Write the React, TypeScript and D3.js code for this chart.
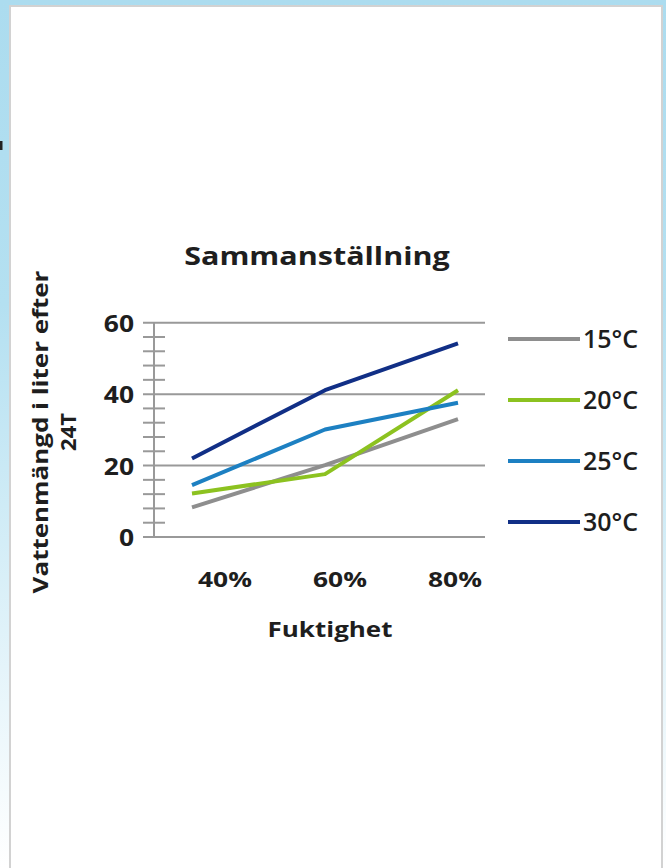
import React from "react";
import * as d3 from "d3";

const categories = ["40%", "60%", "80%"];
const seriesNames = ["15°C", "20°C", "25°C", "30°C"];
const series15 = [8.3, 20.1, 33.0];
const series20 = [12.2, 17.6, 41.1];
const series25 = [14.5, 30.1, 37.6];
const series30 = [22.0, 41.1, 54.2];
const seriesColors = ["#8e8e8e", "#8cc220", "#1d80c2", "#112f86"];
const yTicks = [0, 20, 40, 60];
const minorStep = 4;

const W = 666;
const H = 868;
const FONT = "'Open Sans', 'Noto Sans', sans-serif";
const INK = "#1e1e1e";

export default function App() {
  const allSeries = [series15, series20, series25, series30];
  const x = d3.scalePoint<string>().domain(categories).range([192, 458]);
  const xLab = d3.scalePoint<string>().domain(categories).range([225, 455]);
  const y = d3.scaleLinear().domain([0, 60]).range([537, 322.7]);
  const line = d3
    .line<number>()
    .x((_, i) => x(categories[i]) as number)
    .y((d) => y(d));
  const minor = d3.range(0, 60 + 0.001, minorStep).filter((v) => v % 20 !== 0);
  const legY = d3.scalePoint<string>().domain(seriesNames).range([339, 522]);
  const axisX = 154;

  return (
    <svg
      width={W}
      height={H}
      style={{ position: "absolute", left: 0, top: 0, display: "block" }}
    >
      <defs>
        <linearGradient id="bg" x1="0" y1="0" x2="0" y2="1">
          <stop offset="0" stopColor="#acdcef" />
          <stop offset="0.35" stopColor="#b4e0f1" />
          <stop offset="1" stopColor="#ffffff" />
        </linearGradient>
      </defs>
      <rect x={0} y={0} width={W} height={H} fill="url(#bg)" />
      <rect
        x={10}
        y={6}
        width={652}
        height={H + 10}
        fill="#ffffff"
        stroke="#d2d2d2"
        strokeWidth={2}
      />
      <rect x={0} y={141} width={2.5} height={9} fill="#222" />

      <g transform="translate(317,265) scale(1.22,1)">
        <text
          x={0}
          y={0}
          textAnchor="middle"
          fontFamily={FONT}
          fontWeight={700}
          fontSize={25}
          fill={INK}
        >
          Sammanställning
        </text>
      </g>

      {/* gridlines */}
      {yTicks.map((t) => (
        <line
          key={"g" + t}
          x1={143}
          x2={485}
          y1={y(t)}
          y2={y(t)}
          stroke="#999"
          strokeWidth={2}
        />
      ))}
      {minor.map((t) => (
        <line
          key={"m" + t}
          x1={143}
          x2={165}
          y1={y(t)}
          y2={y(t)}
          stroke="#999"
          strokeWidth={2}
        />
      ))}
      <line x1={axisX} x2={axisX} y1={y(0)} y2={y(60)} stroke="#999" strokeWidth={2} />

      {yTicks.map((t) => (
        <g key={"yl" + t} transform={`translate(134,${y(t) + 1}) scale(1.15,1)`}>
          <text
            x={0}
            y={0}
            dy="0.36em"
            textAnchor="end"
            fontFamily={FONT}
            fontWeight={700}
            fontSize={23}
            fill={INK}
          >
            {t}
          </text>
        </g>
      ))}

      {allSeries.map((s, i) => (
        <path
          key={"s" + i}
          d={line(s) || ""}
          fill="none"
          stroke={seriesColors[i]}
          strokeWidth={4}
          strokeLinejoin="round"
        />
      ))}

      {categories.map((c) => (
        <g key={"xl" + c} transform={`translate(${xLab(c)},579) scale(1.2,1)`}>
          <text
            x={0}
            y={0}
            dy="0.36em"
            textAnchor="middle"
            fontFamily={FONT}
            fontWeight={700}
            fontSize={22}
            fill={INK}
          >
            {c}
          </text>
        </g>
      ))}
      <g transform="translate(330,629) scale(1.18,1)">
        <text
          x={0}
          y={0}
          dy="0.36em"
          textAnchor="middle"
          fontFamily={FONT}
          fontWeight={700}
          fontSize={22}
          fill={INK}
        >
          Fuktighet
        </text>
      </g>

      <g transform="translate(40,432) rotate(-90) scale(1.18,1)">
        <text
          x={0}
          y={0}
          textAnchor="middle"
          dy="0.36em"
          fontFamily={FONT}
          fontWeight={700}
          fontSize={22}
          fill={INK}
        >
          Vattenmängd i liter efter
        </text>
      </g>
      <text
        transform="translate(68,432) rotate(-90)"
        textAnchor="middle"
        dy="0.36em"
        fontFamily={FONT}
        fontWeight={700}
        fontSize={22}
        fill={INK}
      >
        24T
      </text>

      {seriesNames.map((n, i) => (
        <g key={"lg" + n}>
          <line
            x1={508}
            x2={580}
            y1={legY(n)}
            y2={legY(n)}
            stroke={seriesColors[i]}
            strokeWidth={4}
          />
          <text
            x={583}
            y={legY(n)}
            dy="0.36em"
            fontFamily={FONT}
            fontWeight={600}
            fontSize={25}
            fill={INK}
          >
            {n}
          </text>
        </g>
      ))}
    </svg>
  );
}
